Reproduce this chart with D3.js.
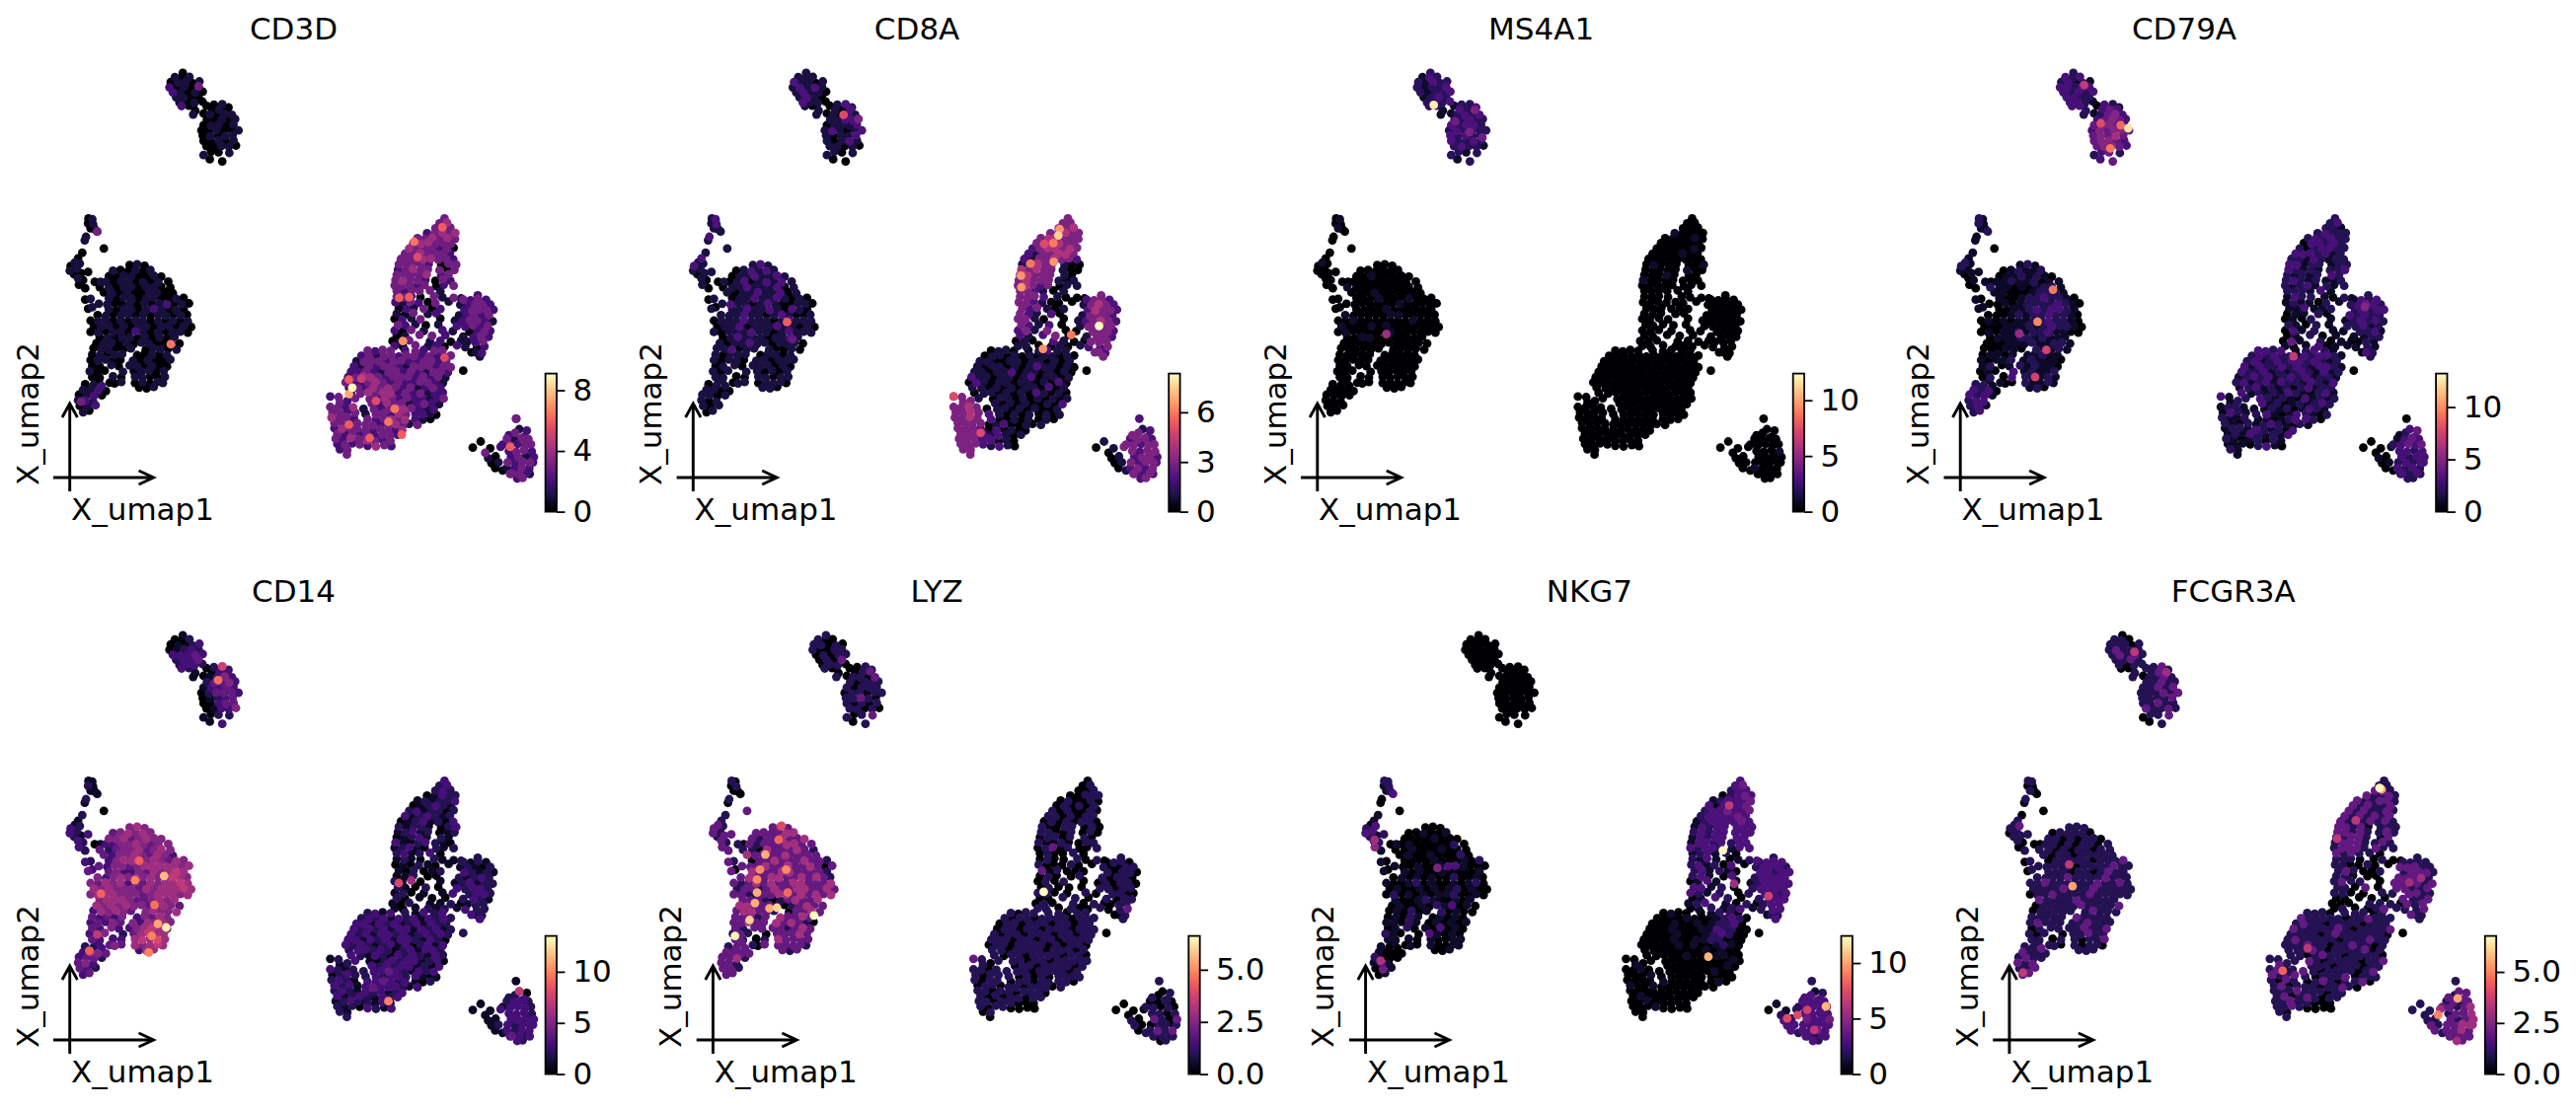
<!DOCTYPE html>
<html><head><meta charset="utf-8">
<script src="https://cdn.jsdelivr.net/npm/d3@7"></script>
<style>html,body{margin:0;background:#fff}svg{display:block}text{font-family:"DejaVu Sans",sans-serif;fill:#000}</style>
</head><body><svg id="c" width="2610" height="1124"></svg>
<script>
// Embedding positions, grouped by visible cell group.
const umapA=[[440,207],[421,219],[438,221],[456,218],[411,233],[428,235],[446,232],[464,236],[480,231],[408,248],
[425,250],[443,246],[461,249],[478,247],[416,262],[434,264],[452,261],[470,263],[488,260],[424,276],
[442,278],[460,275],[478,277],[432,291],[450,289],[468,292],[487,288],[437,301],[455,300],[470,314]];
const umapB=[[497,300],[465,325],[490,322],[515,297],[535,296],[550,305],[510,310],[528,312],[546,309],[505,325],
[523,327],[541,324],[558,326],[498,340],[516,342],[534,339],[552,341],[566,338],[490,355],[508,357],
[526,354],[544,356],[562,353],[485,370],[503,372],[521,369],[539,371],[557,368],[574,370],[488,385],
[506,387],[524,384],[542,386],[560,383],[490,400],[508,402],[526,399],[544,401],[562,398],[497,415],
[515,417],[533,414],[551,416],[568,413],[490,440],[508,430],[526,432],[552,434],[505,452],[535,458]];
const umapC=[[213,620],[222,622],[212,634],[224,636],[218,648],[228,650],[234,657],[207,672],[204,682],[250,705],
[198,717],[188,733],[180,745],[192,748],[170,755],[185,762],[168,768],[178,778],[195,775],[212,772],
[188,790],[200,795],[190,808],[205,818],[228,800],[242,800],[205,850],[218,848],[212,876],[222,872]];
const umapD=[[312,752],[330,750],[348,754],[272,768],[290,766],[308,770],[326,767],[344,769],[362,766],[262,784],
[280,786],[298,782],[316,785],[334,783],[352,786],[370,782],[388,785],[255,800],[273,802],[291,798],
[309,801],[327,799],[345,802],[363,798],[381,801],[405,799],[240,815],[262,817],[280,813],[298,816],
[316,814],[334,817],[352,813],[370,816],[388,814],[410,816],[250,830],[270,832],[288,828],[306,831],
[324,829],[342,832],[360,828],[378,831],[396,829],[416,832],[262,846],[280,848],[298,844],[316,847],
[334,845],[352,848],[370,844],[388,847],[406,845],[424,848],[442,845],[238,862],[258,864],[276,860],
[294,863],[312,861],[330,864],[348,860],[366,863],[384,861],[402,864],[420,860],[438,863],[455,861],
[262,878],[280,880],[298,876],[316,879],[334,877],[352,880],[370,876],[388,879],[406,877],[424,880],
[442,877],[235,894],[255,896],[273,892],[291,895],[309,893],[327,896],[345,892],[363,895],[381,893],
[399,896],[417,892],[435,895],[450,893],[218,910],[236,912],[254,908],[272,911],[290,909],[308,912],
[326,908],[344,911],[362,909],[380,912],[398,908],[416,911],[434,909],[452,912],[226,926],[244,928],
[262,924],[280,927],[298,925],[316,928],[334,924],[352,927],[370,925],[388,928],[406,924],[424,927],
[442,925],[460,928],[218,942],[236,944],[254,940],[272,943],[290,941],[308,944],[326,940],[344,943],
[362,941],[380,944],[398,940],[416,943],[434,941],[452,944],[240,958],[258,960],[276,956],[294,959],
[312,957],[330,960],[348,956],[366,959],[384,957],[402,960],[420,956],[232,974],[250,976],[268,972],
[286,975],[304,973],[322,976],[340,972],[358,975],[376,973],[394,976],[412,972],[432,975],[243,990],
[261,992],[279,988],[297,991],[315,989],[351,992],[369,988],[387,991],[405,989],[425,992],[225,988]];
const umapE=[[222,1006],[240,1008],[258,1004],[276,1007],[294,1005],[330,1008],[348,1004],[366,1007],[384,1005],[402,1008],
[218,1022],[236,1024],[254,1020],[272,1023],[290,1021],[320,1024],[338,1020],[356,1023],[374,1021],[392,1024],
[410,1020],[222,1038],[240,1040],[268,1036],[286,1039],[312,1037],[330,1040],[348,1036],[366,1039],[384,1037],
[402,1040],[216,1054],[234,1056],[252,1052],[296,1055],[322,1053],[340,1056],[358,1052],[376,1055],[394,1053],
[222,1070],[240,1072],[272,1068],[292,1071],[325,1069],[343,1072],[361,1068],[379,1071],[397,1069],[264,1086],
[276,1088],[292,1084],[325,1087],[343,1085],[361,1088],[379,1084],[392,1087],[335,1100],[353,1102],[370,1098]];
const umapT=[[238,1078],[225,1092],[245,1095],[205,1090],[255,1110],[200,1106],[218,1106],[236,1110],[190,1120],[208,1122],
[226,1124],[245,1122],[188,1136],[206,1138],[224,1140],[192,1152],[210,1155],[230,1150],[200,1170],[215,1165]];
const umapF=[[1070,620],[1058,634],[1076,632],[1048,648],[1066,650],[1084,646],[1028,662],[1046,664],[1064,660],[1082,663],
[1096,661],[1005,676],[1023,678],[1041,674],[1059,677],[1077,675],[1095,678],[995,690],[1013,692],[1031,688],
[1049,691],[1067,689],[1085,692],[985,705],[1003,707],[1021,703],[1039,706],[1057,704],[1075,707],[1092,703],
[975,720],[993,722],[1011,718],[1029,721],[1047,719],[1065,722],[1083,718],[965,735],[983,737],[1001,733],
[1019,736],[1037,734],[1055,737],[1073,733],[1091,736],[960,750],[978,752],[996,748],[1014,751],[1032,749],
[1062,752],[1080,748],[1098,751],[958,765],[976,767],[994,763],[1012,766],[1030,764],[1058,767],[1076,763],
[1094,766],[955,780],[973,782],[991,778],[1009,781],[1027,779],[1062,782],[1080,778],[952,795],[970,797],
[988,793],[1006,796],[1024,794],[1048,797],[1066,793],[1084,796],[950,810],[968,812],[986,808],[1004,811],
[1022,809],[1050,812],[1068,808],[1092,811],[955,825],[973,827],[991,823],[1010,826],[1035,824],[1060,827]];
const umapH=[[955,842],[973,844],[990,840],[1012,843],[1045,841],[1065,844],[952,858],[970,860],[988,856],[1008,859],
[1030,857],[1048,860],[1080,856],[960,875],[978,877],[996,873],[1020,876],[1040,874],[1060,877],[955,890],
[975,892],[995,888],[1030,891],[1050,889],[950,905],[968,907],[990,903],[1012,906],[1060,904],[958,922],
[976,924],[1000,920],[1025,923],[1055,921],[950,938],[970,940],[990,936],[1020,939],[1065,937],[955,952],
[975,954],[1010,950],[1040,953],[1072,951],[945,968],[965,970],[985,966],[1035,969],[1060,967],[1085,970],
[1110,966],[950,982],[970,984],[1000,980],[1030,983],[1050,981],[1070,984],[1100,980],[1092,845],[1110,847]];
const umapG=[[1150,838],[1115,850],[1133,852],[1151,848],[1170,851],[1108,865],[1126,867],[1144,863],[1162,866],[1180,864],
[1118,880],[1136,882],[1154,878],[1172,881],[1188,879],[1105,895],[1123,897],[1141,893],[1159,896],[1177,894],
[1095,910],[1113,912],[1131,908],[1149,911],[1167,909],[1186,912],[1100,925],[1120,927],[1138,923],[1156,926],
[1174,924],[1090,940],[1130,942],[1148,938],[1166,941],[1180,939],[1115,955],[1140,957],[1158,953],[1176,956],
[1125,970],[1145,972],[1163,968],[1120,985],[1148,987],[1166,983],[1145,1000],[1160,1002],[1155,1012],[1135,1000]];
const umapL=[[795,1125],[815,1127],[818,1142],[836,1138],[795,1155],[813,1157],[831,1153],[850,1156],[800,1170],[818,1172],
[836,1168],[855,1171],[798,1185],[816,1187],[834,1183],[852,1186],[805,1200],[823,1202],[841,1198],[860,1201],
[805,1215],[823,1217],[841,1213],[860,1216],[812,1230],[830,1232],[848,1228],[866,1231],[808,1245],[826,1247],
[844,1243],[862,1246],[880,1244],[812,1260],[830,1262],[848,1258],[866,1261],[818,1275],[836,1277],[835,1290]];
const umapI=[[885,995],[903,997],[921,993],[940,996],[975,994],[1000,997],[1020,993],[1045,996],[1065,994],[870,1010],
[888,1012],[906,1008],[924,1011],[942,1009],[960,1012],[978,1008],[996,1011],[1014,1009],[1032,1012],[1050,1008],
[1068,1011],[1085,1009],[858,1025],[876,1027],[894,1023],[912,1026],[930,1024],[948,1027],[966,1023],[984,1026],
[1002,1024],[1020,1027],[1038,1023],[1056,1026],[1074,1024],[852,1040],[870,1042],[888,1038],[906,1041],[924,1039],
[942,1042],[960,1038],[978,1041],[996,1039],[1014,1042],[1032,1038],[1050,1041],[1068,1039],[1085,1042],[845,1055],
[863,1057],[881,1053],[899,1056],[917,1054],[935,1057],[953,1053],[971,1056],[989,1054],[1007,1057],[1025,1053],
[1043,1056],[1061,1054],[1078,1057],[838,1070],[856,1072],[874,1068],[892,1071],[910,1069],[928,1072],[946,1068],
[964,1071],[982,1069],[1000,1072],[1018,1068],[1036,1071],[1054,1069],[1072,1072],[832,1085],[850,1087],[868,1083],
[886,1086],[904,1084],[922,1087],[940,1083],[958,1086],[976,1084],[994,1087],[1012,1083],[1030,1086],[1048,1084],
[1066,1087],[840,1100],[862,1102],[880,1098],[898,1101],[916,1099],[934,1102],[952,1098],[970,1101],[988,1099],
[1006,1102],[1024,1098],[1042,1101],[1060,1099],[845,1115],[868,1117],[886,1113],[904,1116],[922,1114],[940,1117],
[958,1113],[976,1116],[994,1114],[1012,1117],[1030,1113],[1048,1116],[1066,1114],[855,1130],[890,1132],[908,1128],
[926,1131],[944,1129],[962,1132],[980,1128],[998,1131],[1016,1129],[1034,1132],[1052,1128],[1068,1131],[895,1145],
[913,1147],[931,1143],[949,1146],[967,1144],[985,1147],[1003,1143],[1021,1146],[1039,1144],[1057,1147],[875,1160],
[900,1162],[918,1158],[936,1161],[954,1159],[972,1162],[990,1158],[1008,1161],[1026,1159],[1044,1162],[880,1175],
[905,1177],[923,1173],[941,1176],[959,1174],[977,1177],[1000,1173],[1018,1176],[1036,1174],[1050,1177],[885,1190],
[905,1192],[923,1188],[941,1191],[959,1189],[975,1192],[1000,1188],[1018,1191],[1036,1189],[880,1205],[898,1207],
[916,1203],[934,1206],[952,1204],[970,1207],[985,1203],[1005,1206],[880,1220],[898,1222],[916,1218],[934,1221],
[952,1219],[968,1222],[885,1235],[903,1237],[921,1233],[939,1236],[957,1234],[885,1250],[903,1252],[921,1248],
[940,1251],[885,1265],[905,1267],[925,1263],[942,1266]];
const umapJ=[[1138,1270],[1157,1253],[1168,1285],[1180,1272],[1175,1300],[1193,1295],[1183,1314],[1200,1312],[1192,1328],[1210,1335]];
const umapK=[[1242,1188],[1250,1218],[1225,1235],[1268,1222],[1220,1245],[1238,1247],[1256,1243],[1272,1246],[1210,1262],[1228,1264],
[1246,1260],[1264,1263],[1278,1261],[1225,1280],[1243,1282],[1261,1278],[1280,1281],[1230,1296],[1248,1298],[1266,1294],
[1285,1297],[1222,1312],[1240,1314],[1258,1310],[1276,1313],[1220,1328],[1238,1330],[1256,1326],[1274,1329],[1232,1344],
[1250,1346],[1268,1342],[1245,1358],[1258,1356],[1205,1268],[1275,1345],[1228,1345],[1262,1240],[1240,1228],[1283,1312]];
const umapStray=[[1115,1052]];
const umapGroups=[umapA,umapB,umapC,umapD,umapE,umapT,umapF,umapH,umapG,umapL,umapI,umapJ,umapK,umapStray];

// Expression read per group (same order as umapGroups); entries left out read as 0.
const CD3D=[
[0,1,0,1,0,1,1,0,1,2,0,1,0,1,2,1,0,1,0,1,1,0,0,1,0,1,0,2,0,0],
[0,1,0,0,1,0,0,1,0,1,0,1,1,0,0,1,0,1,0,1,1,0,1,0,0,1,0,0,1,0,1,0,1,1,0,0,1,0,1,0,0,1,1,0,1,0,0,1,0,0],
[0,1,0,1,0,0,3,1,1,0,0,0,1,1,0,1,1,0,0,0,1,0,0,0,0,1,0,1,0,1],
[0,1,0,1,0,0,1,0,1,0,0,1,1,0,0,1,0,1,0,1,1,0,1,0,1,0,0,1,0,1,1,0,1,1,0,0,0,1,0,1,0,0,1,1,0,0,1,0,1,1,
0,1,1,0,0,1,0,1,1,0,0,1,0,1,0,1,2,0,1,0,1,0,1,1,0,1,2,1,0,1,0,0,1,0,1,1,0,1,0,1,1,0,1,0,0,1,1,0,1,0,
1,1,0,1,0,1,0,1,0,1,1,0,1,0,1,1,0,1,1,0,1,0,0,1,0,1,1,0,2,1,0,1,0,1,1,0,0,1,0,1,1,0,1,0,1,0,1,0,1,1,
0,1,0,1,1,0,0,1,0,1,1,0,0,1,0,1,1,0,1,0],
[0,1,0,1,1,0,0,1,0,1,0,1,1,0,0,1,0,1,0,0,1,0,0,1,0,1,1,0,1,0,0,1,0,0,1,0,1,1,0,1,0,0,1,0,1,1,0,0,1,0,0,1,0,1,0,1,1,0,0,1],
[0,1,2,0,0,1,1,2,0,1,2,0,1,2,1,0,1,2,1,0],
[3,3,4,3,2,3,2,3,4,3,4,3,3,4,3,4,3,2,4,4,3,3,3,4,3,3,3,2,3,0,3,3,4,3,3,3,2,3,3,3,4,4,3,3,2,3,3,3,3,2,
0,3,3,2,3,4,3,3,3,0,3,3,3,3,3,4,2,3,3,4,3,3,2,0,3,2,3,3,3,2,3,0,2,3,3,2,3,3,3,1],
[3,3,2,0,3,1,2,1,3,2,0,3,1,0,2,1,3,0,2,1,0,3,1,2,0,2,1,3,0,3,2,1,0,1,2,0,3,1,2,0,1,3,3,2,0,1,3,1,2,0,1,2,0,3,1,2,0,2,3,1],
[2,3,2,3,2,1,2,3,3,2,2,3,3,3,2,1,2,3,2,3,1,2,3,3,2,1,2,2,3,2,3,1,0,2,3,2,1,2,3,2,1,2,3,1,0,2,1,2,1,0],
[2,3,3,2,3,3,2,4,3,3,2,3,4,3,3,2,3,3,2,3,2,4,3,3,3,2,3,2,3,2,4,3,3,2,3,2,3,2,3,3],
[3,2,3,3,2,3,2,3,3,2,3,1,3,3,2,3,3,2,3,2,2,3,1,3,3,3,2,3,3,2,2,3,3,2,3,2,1,3,2,3,3,2,1,3,3,3,2,3,3,2,2,3,2,1,3,3,2,3,2,1,3,3,2,2,3,4,4,3,2,3,3,3,2,3,2,3,1,3,2,
2,3,4,3,2,3,2,2,3,3,2,1,2,3,2,4,3,4,3,2,3,1,2,3,2,2,3,4,3,4,4,2,3,2,3,1,2,2,3,3,2,4,3,2,3,2,2,1,2,3,3,2,4,3,3,1,2,3,2,1,1,3,2,3,4,4,3,2,1,2,1,3,3,2,4,3,2,2,1,0,3,2,3,4,3,4,2,1,0,3,3,2,3,4,3,1,3,3,2,3,
3,2,4,3,2,3,3,2,4,3,2,3,2,4,3,2,3,3,2,4],
[0,0,3,0,1,0,0,1,0,0],
[3,1,2,2,3,1,3,3,2,3,2,3,3,2,3,3,2,2,3,1,2,3,2,3,3,1,2,3,2,3,3,2,2,3,2,1,3,2,3,2],[0]];
const CD8A=[
[1,1,1,1,2,1,1,0,1,1,2,1,2,1,1,2,1,1,0,1,2,1,0,2,1,1,0,1,0,1],
[0,1,0,1,2,1,1,0,2,1,0,2,1,1,1,2,2,3,0,1,1,1,2,1,2,1,0,1,2,1,0,1,1,2,1,0,1,2,1,1,1,0,1,0,1,1,0,1,0,0],
[1,2,1,2,1,0,1,2,1,1,1,2,1,1,2,1,1,0,1,1,1,0,1,0,0,1,0,1,1,0],
[1,2,1,0,1,2,1,2,1,0,1,1,2,1,1,2,1,0,1,2,0,1,2,1,2,1,0,1,1,2,1,1,1,2,0,1,1,0,1,1,2,1,1,2,0,1,0,1,1,2,
1,1,2,1,0,1,0,1,2,1,1,0,1,2,1,0,0,1,1,0,1,1,2,1,1,2,1,0,2,1,0,1,1,1,2,1,1,0,1,2,1,0,0,1,0,1,1,1,2,1,
1,1,0,1,2,1,1,1,0,1,1,2,0,1,1,1,2,1,1,0,1,0,1,0,1,1,1,2,1,1,0,1,2,1,1,1,0,1,2,1,1,1,0,1,1,2,1,1,0,1,
1,2,1,1,0,1,1,1,0,1,2,0,1,1,1,0,0,1,0,1],
[1,0,1,1,1,0,1,1,0,1,1,0,1,1,0,1,1,0,1,1,1,0,1,1,0,1,1,1,0,1,0,1,0,1,1,1,0,1,0,1,1,1,0,0,1,1,0,1,1,0,1,1,0,1,1,1,0,1,1,0],
[1,1,1,0,0,1,1,0,1,1,0,1,1,0,1,1,0,1,0,1],
[3,3,3,3,3,4,3,3,4,3,3,3,4,4,3,3,3,3,5,4,4,3,3,2,3,4,4,3,4,3,2,1,3,3,4,4,3,2,1,3,3,4,3,3,2,1,3,4,3,3,
1,0,0,4,3,4,3,3,1,0,0,3,4,3,3,3,1,0,3,4,3,3,3,1,0,1,3,4,3,2,3,0,1,1,3,3,2,1,0,1],
[3,3,3,2,1,0,3,3,2,1,0,0,0,3,2,3,1,0,1,3,2,1,2,0,3,3,1,0,0,3,2,1,2,0,2,3,1,3,0,2,1,2,3,0,0,1,0,2,1,0,0,1,1,0,0,1,0,1,0,0],
[3,2,3,3,2,1,3,4,3,2,2,4,3,3,2,1,3,3,3,2,1,2,3,4,3,2,1,3,3,3,3,0,3,3,3,2,1,3,3,2,3,3,3,2,2,3,3,2,3,3],
[3,3,3,3,3,3,4,3,3,3,4,3,3,3,4,3,3,3,3,3,3,3,3,2,3,3,3,2,3,3,3,2,2,3,3,3,2,3,3,3],
[0,1,1,0,0,1,2,1,1,0,1,1,0,1,0,1,0,1,1,0,1,0,1,1,0,0,1,1,0,1,1,0,1,0,1,1,0,1,1,0,1,0,1,2,1,1,0,1,0,1,1,0,1,1,2,0,1,1,0,1,0,1,0,2,1,1,0,1,1,0,1,2,0,1,1,0,1,0,2,
1,0,1,1,0,1,1,0,1,0,2,0,1,1,0,1,0,1,0,1,1,0,2,0,1,0,1,1,0,1,0,1,0,2,1,0,1,0,1,0,1,1,0,1,0,1,0,1,0,1,1,0,1,0,1,0,0,1,0,2,0,1,1,0,1,0,1,0,0,1,2,1,0,1,0,1,0,1,0,1,2,0,0,1,0,1,0,1,0,0,1,2,0,0,1,
0,1,0,2,0,1,0,0,1,2,1,0,1,2,0,1,0,1,2,1],
[0,1,0,1,0,1,0,1,0,1],
[2,1,3,2,2,3,3,2,3,3,2,3,3,3,2,3,3,2,3,3,2,3,2,3,3,2,3,2,3,2,2,3,2,3,3,2,3,2,3,2],[0]];
const MS4A1=[
[2,1,3,2,2,1,3,2,2,2,1,2,2,3,2,1,2,2,3,1,2,3,2,2,1,2,3,2,2,1],
[1,1,1,2,2,3,3,2,2,2,3,2,3,2,2,3,2,2,3,2,3,3,2,2,3,2,3,2,2,3,2,3,2,2,3,2,2,3,2,2,3,2,2,1,2,2,1,2,1,2],
[0,1,0,0,1,0,0,0,0,0,0,0,1,0,0,0,0,0,0,0],
[0,0,0,0,0,0,0,0,0,0,0,1,0,0,0,0,0,0,0,0,0,0,0,0,0,0,1,0,0,0,0,0,0,0,0,0,0,0,0,1,0,0,0,0,0,0,0,0,0,1,
0,0,0,1,0,0,0,0,0,0,0,0,0,0,1,0,0,0,0,0,0,0,0,0,1,0,0,0,0,0,0,1,0,0,0,0,0,1,1,0,0,0,0,0,0,0,1,0,0,0,
0,0,0,0,1,0,0,0,1,0,0,0,1,0,1,0,0,0,0,0,0,0,0,1,0,0,0,0,0,1,0,0,0,0,0,0,0,0,1,1,0,0,0,0,0,0,0],
[],[],
[0,0,0,0,0,0,1,0,0,0,0,0,0,0,0,1,0,0,0,0,0,0,0,0,0,0,0,0,1,0,0,0,0,0,1,0,0,0,0,0,0,0,0,0,0,0,1,0,0,0,0,0,1,0,0,0,0,0,1,0,0,0,0,0,1,0,0,0,1,0],
[],[],[],[],[],
[0,0,0,0,0,0,0,0,0,0,0,0,0,0,0,0,1,0,0,0,0,0,0,0,0,1,0,0,0,0],[]];
const CD79A=[
[2,3,2,3,2,3,1,2,1,3,3,2,3,3,3,2,3,2,3,3,3,2,2,3,3,2,1,3,3,2],
[0,2,1,3,2,1,3,4,3,2,4,5,3,3,4,5,4,3,4,5,5,4,3,3,5,4,5,5,4,4,5,4,6,4,4,5,5,4,3,4,5,5,4,3,2,3,4,2,3,4],
[2,1,2,1,1,1,2,1,1,0,1,1,2,1,2,1,1,0,1,1,0,1,0,0,1,0,1,0,1,1],
[1,2,1,0,1,2,1,1,2,0,1,1,2,1,2,1,0,1,1,2,1,1,2,0,1,1,2,1,1,0,1,0,1,2,2,1,1,1,0,0,0,1,2,2,2,1,1,0,0,1,
2,2,3,2,2,1,0,0,0,1,0,1,2,2,2,2,3,2,1,0,0,0,1,1,2,3,2,3,3,2,1,0,0,0,1,2,1,2,2,3,2,2,1,0,0,1,0,1,0,1,
1,2,2,3,2,2,1,0,0,0,0,1,1,1,2,1,2,3,2,2,1,0,0,1,0,1,1,2,1,2,2,3,1,1,0,0,0,1,1,1,2,2,1,2,1,1,1,0,0,0,
1,1,1,2,1,1,2,2,1,0,0,1,1,0,2,1,1,2,1,0],
[0,1,1,0,1,1,1,2,1,1,1,0,1,1,2,1,2,1,1,1,0,1,2,0,1,2,1,2,1,1,0,0,1,0,3,1,2,1,1,2,0,2,0,3,2,1,1,2,1,1,0,0,2,1,1,2,1,1,2,0],
[1,2,1,2,0,3,2,3,3,2,3,1,2,3,3,2,3,1,2,3],
[2,2,3,2,2,1,2,3,2,2,2,2,3,2,3,2,2,0,3,3,2,3,2,2,0,2,3,3,2,2,3,3,3,2,3,1,2,2,2,1,3,2,1,2,2,3,3,1,2,2,
1,2,2,3,2,1,2,1,2,2,3,2,1,2,1,2,3,2,2,3,2,1,2,1,1,2,2,1,2,3,1,2,1,2,2,2,2,1,3,1],
[1,3,2,2,1,0,1,2,1,1,0,2,1,1,1,3,1,1,2,0,1,1,2,0,0,1,0,2,1,2,1,0,2,1,0,3,1,2,1,0,1,2,0,1,0,4,1,2,0,1,0,1,0,1,3,0,1,1,2,1],
[2,1,3,2,3,2,3,4,3,2,2,3,2,3,3,3,2,3,2,2,1,2,3,2,3,2,2,2,3,1,2,1,2,2,3,1,1,1,2,2,0,2,1,1,2,1,3,2,2,0],
[3,1,1,2,1,2,2,1,0,3,2,1,2,1,1,2,2,1,0,2,1,2,2,1,1,2,1,3,2,1,0,1,2,1,1,1,0,2,1,1],
[3,3,2,3,1,2,3,2,1,2,3,2,3,2,2,1,3,2,3,3,2,1,2,3,1,2,3,2,3,3,2,3,2,1,2,3,1,3,2,2,3,2,3,2,1,3,3,2,1,3,2,2,3,1,2,1,2,3,2,1,3,1,2,1,2,3,2,3,1,2,3,2,3,1,2,2,1,2,3,
1,2,3,1,3,2,2,1,3,2,1,3,1,2,3,1,2,1,2,0,2,3,1,2,2,3,1,2,1,2,1,3,2,1,0,2,3,1,2,3,2,1,2,1,0,3,1,2,1,2,3,1,2,0,1,2,1,2,3,2,1,1,2,1,2,0,1,3,2,1,2,3,1,0,1,3,2,1,0,2,1,1,0,1,2,3,3,2,0,1,2,3,2,1,0,
2,1,3,2,1,2,0,3,2,1,2,1,3,2,0,2,1,2,3,1],
[0,0,0,0,1,0,0,1,0,0],
[0,3,1,4,1,3,4,3,2,3,4,3,4,3,3,2,3,3,2,3,3,2,3,2,3,3,2,3,2,3,2,3,2,2,1,2,2,3,2,3],[0]];
const CD14=[
[1,0,0,2,0,1,0,2,3,0,1,2,3,2,3,3,3,4,3,2,3,3,4,2,3,3,2,3,2,1],
[0,1,0,2,5,2,0,3,3,1,3,5,3,2,4,4,5,3,1,3,3,4,3,0,2,4,4,4,3,0,1,2,3,4,0,0,3,4,4,0,1,3,3,5,1,0,2,2,1,3],
[1,1,2,1,1,0,1,2,1,0,2,1,1,2,3,2,3,2,1,3,3,2,3,2,0,1,3,2,4,3],
[5,6,5,4,5,6,5,6,5,5,5,6,4,5,6,5,5,3,3,5,5,6,5,4,5,5,4,2,4,5,5,6,4,5,6,5,4,3,5,5,6,5,4,6,5,3,3,5,6,6,
7,5,6,5,4,6,5,4,3,5,5,4,5,6,6,6,6,6,5,6,4,5,3,3,5,4,6,5,6,7,6,5,3,5,6,5,6,5,6,5,6,7,6,5,5,4,6,5,6,3,
5,4,6,5,6,6,7,6,6,5,6,5,5,5,4,6,5,6,6,6,7,6,5,6,6,6,5,5,5,4,5,6,6,6,5,6,5,6,6,6,5,4,4,5,6,5,6,6,5,6,
5,6,5,5,4,5,6,5,4,6,5,6,5,4,5,6,5,5,6,3],
[4,3,4,3,5,3,5,4,6,5,3,4,3,5,4,5,3,6,5,6,5,4,3,5,3,3,5,6,7,6,5,3,7,5,2,4,6,7,6,6,4,3,3,3,6,7,6,8,6,4,5,4,6,5,6,7,6,3,6,6],
[3,2,3,2,4,3,6,5,3,4,4,2,4,5,3,4,3,2,3,4],
[3,2,3,2,3,2,0,1,3,2,2,1,2,1,2,2,3,0,1,2,3,2,1,2,3,1,2,2,0,2,3,1,2,3,2,1,2,0,1,2,3,1,2,0,3,2,1,2,2,1,
0,2,3,1,2,3,1,2,0,1,2,0,1,2,3,1,2,1,3,1,0,2,3,2,1,0,1,2,3,1,0,2,1,2,2,3,1,2,3,0],
[1,2,1,0,2,1,0,1,0,2,1,0,1,1,0,2,0,1,2,0,1,2,0,0,2,1,6,0,1,2,1,0,2,0,1,2,0,1,1,2,0,1,0,0,1,0,2,1,1,2,0,1,0,1,2,1,2,1,1,2],
[2,2,1,2,1,1,2,1,0,2,3,2,1,2,1,2,1,2,3,2,1,2,3,1,2,2,3,2,3,3,2,3,2,3,3,2,2,3,2,1,1,2,2,3,2,2,1,2,3,3],
[1,2,1,2,3,2,1,2,0,2,3,2,2,3,2,0,3,2,3,1,2,3,2,1,3,1,2,3,1,2,3,2,1,2,1,2,0,2,1,2],
[2,3,1,3,2,1,3,2,3,2,3,2,3,1,3,2,3,1,3,2,3,2,3,3,1,3,2,3,1,2,3,1,3,2,2,3,2,3,2,3,1,3,3,1,3,2,3,1,2,3,2,3,1,3,3,2,3,1,2,3,2,3,2,3,3,1,3,2,3,1,3,3,2,1,3,2,0,3,2,
3,2,1,2,3,1,3,0,2,3,1,3,2,3,3,2,3,2,0,2,3,1,3,3,2,3,2,1,3,2,0,3,2,3,2,1,3,2,3,1,0,2,3,2,3,3,1,2,3,0,3,2,3,2,3,3,1,2,0,3,2,3,3,4,3,2,1,3,2,3,2,3,2,3,3,2,3,1,0,1,3,3,4,3,2,3,1,0,2,3,4,3,3,3,2,1,3,3,
2,3,1,2,3,2,1,3,2,3,2,1,3,2,3,2,1,3,2,3],
[1,1,1,1,1,1,1,2,1,1],
[1,3,2,0,2,3,3,2,1,3,3,3,2,3,3,3,2,3,3,3,3,3,2,3,3,3,2,3,3,4,3,2,3,2,3,3,3,3,2,3],[2]];
const LYZ=[
[1,1,0,0,1,1,0,1,0,1,0,0,1,1,0,1,0,1,1,0,1,0,2,0,1,1,0,1,0,0],
[0,1,0,0,1,1,0,1,2,1,1,0,2,1,0,1,1,1,1,0,1,1,1,0,1,1,0,1,1,1,1,2,1,0,1,0,1,0,1,1,1,0,1,0,1,0,1,2,0,1],
[1,0,0,1,0,0,0,1,0,2,1,1,2,1,2,1,2,1,2,2,2,1,2,2,1,0,2,1,2,0],
[2,3,2,2,2,2,2,3,3,2,1,2,2,3,2,2,3,2,1,2,2,2,3,3,2,2,1,1,0,3,2,2,2,3,2,1,3,2,2,2,2,3,2,2,2,2,0,2,2,3,
2,2,2,3,2,2,1,2,2,2,3,2,2,3,2,2,3,2,0,2,3,2,2,2,3,3,2,2,2,2,1,2,3,2,2,3,3,2,2,3,2,3,2,1,2,1,2,3,2,3,
2,2,3,3,2,2,2,3,1,2,2,1,2,3,2,2,3,3,2,2,3,2,2,2,1,0,2,2,3,3,2,3,2,3,2,3,2,2,2,1,0,1,2,3,2,2,3,3,3,2,
2,2,1,0,1,2,3,2,2,3,3,2,2,1,0,2,2,3,2,2],
[2,2,2,1,2,3,2,2,3,2,2,2,3,2,2,3,2,3,2,1,0,2,1,2,2,2,2,1,2,3,2,1,2,1,0,2,2,2,3,2,2,1,0,1,3,2,2,2,2,1,0,2,2,2,2,2,1,2,1,2],
[2,2,2,1,2,2,2,2,2,2,3,1,2,2,1,2,2,1,2,2],
[0,0,1,0,0,1,0,0,1,1,1,0,1,0,0,1,0,0,1,0,1,0,1,1,0,1,0,0,1,0,1,1,0,1,0,1,1,0,1,0,1,0,1,1,0,1,0,0,1,1,
0,1,0,1,1,0,0,1,0,1,0,0,1,1,0,1,1,0,1,0,0,1,0,0,1,1,0,1,2,0,1,0,0,1,0,1,0,0,1,0],
[0,1,0,0,1,0,1,0,0,0,1,0,0,2,0,1,0,0,0,0,1,0,0,1,0,1,0,1,0,0,1,0,0,0,1,1,0,0,1,0,0,1,1,0,0,1,0,1,0,1,0,1,1,0,1,0,0,1,1,0],
[1,0,1,1,0,1,0,0,1,1,1,0,1,1,0,1,0,1,1,0,0,1,0,1,1,0,1,1,0,1,1,0,1,1,0,0,1,0,1,1,0,1,1,0,1,2,0,1,1,0],
[2,1,1,0,1,1,0,1,1,0,1,1,1,0,1,1,0,1,1,0,1,1,0,1,1,0,1,0,1,1,0,1,1,1,0,1,1,0,1,0],
[1,0,1,1,1,1,0,1,1,1,0,1,1,0,1,1,1,1,0,1,1,1,0,1,1,0,1,1,1,0,1,1,0,1,1,0,1,1,0,1,1,0,1,1,1,0,1,1,1,1,0,1,1,0,1,1,1,0,1,1,0,1,1,1,1,1,0,1,1,0,1,1,0,1,1,1,1,0,1,
1,0,1,1,1,1,0,1,0,1,1,0,1,1,0,1,1,1,1,0,1,1,1,0,1,1,0,1,1,0,1,1,1,1,0,1,1,0,1,1,1,0,1,1,0,1,1,1,1,1,0,1,1,0,1,1,1,1,0,1,1,1,1,0,1,1,1,1,0,1,1,0,1,0,1,0,1,1,1,1,0,1,1,0,1,1,1,1,0,1,
1,0,1,1,1,0,1,1,0,1,1,1,0,1,1,0,1,1,1,0],
[0,0,0,0,1,0,1,0,0,1],
[1,0,1,1,0,0,1,0,1,1,0,1,0,1,1,0,1,2,1,0,2,0,1,1,0,1,2,1,2,0,1,1,0,1,0,1,1,1,0,1],[0]];
const NKG7=[
[],[],
[2,2,1,2,1,2,3,0,0,0,1,1,0,3,2,3,3,2,1,2,3,2,5,1,0,1,1,0,1,0],
[0,0,0,0,0,1,0,0,1,0,0,0,0,1,0,0,0,0,1,0,0,0,0,0,2,0,0,0,1,0,0,0,1,0,0,0,0,1,0,0,1,0,0,0,2,0,0,0,0,0,
1,0,0,0,1,0,2,1,0,0,1,0,0,1,3,3,1,0,0,0,1,0,1,0,0,1,0,0,0,0,1,0,1,0,1,0,1,0,0,2,0,0,1,0,1,0,0,1,2,0,
1,0,0,1,0,1,2,0,0,1,0,0,1,0,1,0,1,2,0,1,0,0,0,2,0,1,0,1,0,1,1,2,0,0,1,0,1,0,0,1,2,1,0,0,1,0,1,0,1,0,
0,1,0,2,1,3,0,1,0,1,0,2,0,1,2,0,1,0,0,0],
[0,1,0,2,1,0,1,0,1,0,1,1,0,2,1,0,1,0,1,0,1,0,1,2,0,1,0,3,0,1,0,2,1,0,0,3,1,0,1,0,1,0,1,0,1,0,0,1,1,0,1,0,1,0,0,1,1,0,0,1],
[1,0,0,1,0,1,0,0,2,0,0,0,1,3,1,0,4,1,0,1],
[3,3,4,2,3,3,0,2,3,4,3,1,2,3,3,3,4,3,0,3,3,3,4,2,3,3,4,3,3,4,2,3,3,3,3,4,3,1,2,3,3,3,3,4,3,1,3,2,3,3,
3,3,3,2,3,2,3,3,3,3,3,1,3,2,3,3,3,3,1,3,3,2,3,2,3,3,3,2,3,3,2,1,3,3,1,2,3,1,2,0],
[2,1,3,1,0,1,2,3,1,2,0,3,0,2,3,1,2,1,0,2,3,1,0,3,0,1,3,1,1,3,3,1,2,0,3,2,1,2,0,0,1,3,2,0,1,2,3,1,0,2,0,0,1,2,1,2,3,1,2,3],
[2,2,3,3,3,2,3,3,3,2,3,3,2,3,3,2,3,3,3,3,1,2,3,3,3,3,2,3,3,3,3,2,3,3,2,3,2,3,3,3,2,3,3,2,3,3,2,2,3,1],
[0,0,1,0,0,0,1,0,0,0,0,1,0,0,0,0,1,0,0,1,0,0,0,0,0,1,0,0,0,0,1,0,0,0,0,0,1,0,0,0],
[0,1,0,0,0,1,2,2,0,0,0,0,0,1,0,0,0,1,2,3,2,0,0,0,0,1,0,0,1,0,1,2,2,3,0,0,0,0,1,0,0,0,1,1,3,2,2,0,0,0,0,0,0,1,0,0,0,1,2,3,2,0,0,0,0,0,0,1,0,0,1,1,2,2,0,0,0,0,0,
0,0,0,1,0,1,0,0,1,2,1,0,0,0,0,0,0,0,0,0,1,0,1,0,0,0,0,0,0,0,1,0,0,0,1,1,0,0,0,0,0,0,0,0,0,0,0,0,1,0,0,0,0,0,0,0,0,0,1,0,0,0,0,0,0,0,0,1,0,0,0,0,0,0,0,0,0,0,0,0,1,0,0,0,0,0,0,1,0,0],
[0,1,2,1,3,2,3,3,3,2],
[2,1,3,2,3,3,3,3,2,3,3,3,4,3,3,3,3,4,3,3,4,3,3,3,3,3,3,4,3,3,2,3,3,2,2,3,3,3,3,3],[0]];
const FCGR3A=[
[0,1,1,0,1,1,1,0,1,1,2,1,1,1,1,2,1,2,1,1,1,2,1,1,0,1,1,0,0,1],
[1,1,0,1,2,1,1,2,1,1,1,2,1,1,1,2,1,1,1,1,2,1,2,1,1,1,2,1,2,1,1,1,1,2,1,1,2,1,1,2,1,1,2,1,0,1,1,2,0,1],
[1,1,0,0,1,0,0,1,0,0,0,1,1,2,1,1,0,1,1,1,1,0,0,1,0,0,0,1,0,1],
[1,1,1,0,1,1,1,1,0,1,1,0,1,0,1,1,0,1,1,0,1,0,1,1,0,1,1,1,0,1,0,1,1,0,1,1,1,0,1,1,0,1,1,1,1,1,0,1,1,1,
1,1,0,1,1,1,2,1,1,1,1,1,0,1,1,1,1,2,1,1,1,1,1,0,1,1,0,1,2,1,1,1,1,1,1,2,1,1,1,1,2,1,1,1,1,1,2,1,1,1,
1,1,1,2,1,1,2,1,1,1,1,1,2,1,1,1,2,1,1,1,1,1,0,1,1,2,1,1,1,1,2,1,1,1,1,1,2,1,1,1,1,2,1,1,1,1,1,0,1,1,
1,1,1,2,1,1,1,1,2,1,1,1,1,1,1,2,1,1,1,0],
[1,1,1,1,1,2,1,1,1,1,1,2,1,1,1,1,1,2,1,1,1,0,1,1,1,1,1,2,1,1,2,1,0,1,0,1,1,2,1,1,1,1,0,1,1,0,1,1,2,1,1,0,1,0,1,1,0,1,1,1],
[1,1,2,1,1,2,1,1,1,2,1,1,2,1,2,1,1,2,2,2],
[1,1,1,2,2,1,2,1,1,2,1,2,1,1,2,2,1,2,1,2,1,1,2,2,1,2,1,1,2,1,2,1,2,1,2,1,2,2,1,2,1,2,1,2,1,2,2,1,2,0,
1,1,1,2,2,1,2,1,1,2,1,2,1,2,2,1,0,2,1,2,2,2,1,1,2,1,1,2,2,2,1,2,1,1,2,1,2,1,1,0],
[1,1,1,0,0,1,1,1,0,0,1,0,0,1,2,1,0,0,1,1,1,0,0,0,1,2,1,1,0,1,1,0,2,0,1,1,0,0,1,0,0,0,0,0,0,0,0,1,1,1,0,0,1,0,0,1,2,1,0,0],
[1,1,1,1,1,2,2,2,1,1,1,2,2,2,1,2,2,2,3,1,2,2,3,2,1,2,2,2,1,1,2,1,2,2,1,1,2,1,1,2,2,1,2,1,1,2,1,1,1,2],
[1,1,2,1,1,2,1,1,2,1,1,2,1,0,2,1,1,2,0,1,1,1,1,2,1,2,0,1,1,1,2,1,1,1,1,2,1,1,0,1],
[1,1,1,0,1,1,1,0,1,2,1,1,1,1,1,0,1,1,2,1,1,1,1,2,1,1,0,1,1,1,1,0,1,1,1,2,1,1,1,1,1,2,1,0,1,1,1,1,2,1,1,1,1,0,1,2,1,1,1,1,1,1,0,1,2,1,1,1,1,1,0,1,1,1,2,1,1,1,1,
1,2,1,1,0,1,1,2,1,1,0,1,1,1,1,2,1,0,1,1,1,1,2,0,1,1,1,0,1,2,1,1,0,1,1,1,1,0,1,2,1,0,1,1,1,1,0,1,1,2,1,1,1,0,1,1,1,0,1,1,2,1,0,1,1,1,1,0,1,2,1,0,1,1,1,2,0,1,1,1,0,1,2,1,0,1,1,2,0,1,
1,0,1,1,2,1,0,1,1,1,0,1,1,2,1,0,1,1,1,0],
[1,1,1,1,1,1,2,1,2,1],
[1,2,2,2,1,2,1,2,2,2,1,2,3,1,2,2,3,2,1,2,3,2,2,3,3,2,2,3,2,1,2,2,3,2,3,2,2,2,1,3],[0]];

// Single cells that stand out, read individually: [umap1, umap2, value].
const CD3D_spots=[[411,977,6.5],[848,1100,9],[840,1118,7.5],[840,1077,6],[970,968,7],[997,686,6.5],[1065,645,6],[961,845,6],[985,843,6],[950,1160,6.5],[935,1197,6.5],[967,1234,6],[840,1205,6],[890,1243,6],[1228,1268,6],[1243,1188,3],[195,1140,3],[234,657,3],[905,1138,5.5],[870,1075,5],[1070,1015,5.5],[1005,730,5.5],[478,245,3]];
const CD8A_spots=[[394,914,5.5],[530,326,5],[407,963,2.5],[1047,668,7.5],[1050,650,6.5],[1035,690,6],[957,782,6.5],[958,815,6.5],[980,748,6],[1036,743,6.5],[1145,925,8.3],[1078,950,6],[1010,990,6.5],[860,1228,5],[795,1125,5]];
const MS4A1_spots=[[334,948,5.5],[448,298,12],[547,312,4.5],[534,375,4.5],[565,390,4],[500,345,4]];
const CD79A_spots=[[391,822,9.5],[354,913,10],[310,947,5.5],[375,993,7.5],[348,1070,7.5],[466,241,7],[506,350,8],[554,355,9],[572,364,12.5],[529,421,9.5],[970,1011,7],[1142,871,5]];
const CD14_spots=[[400,1036,13],[380,1026,11],[395,890,11.5],[325,902,10],[335,847,9],[243,940,9],[372,972,9.5],[365,1060,10],[215,1102,9],[358,1107,10],[935,1245,10],[960,910,8],[1250,1217,7],[535,295,7.5],[525,334,9.5]];
const LYZ_spots=[[294,829,5.5],[281,872,5],[274,937,5.5],[269,967,5.5],[322,980,6],[304,982,5.5],[256,1015,6],[411,1002,6.6],[221,1060,6.5],[348,937,4.5],[344,872,5],[274,900,5],[964,935,6.6],[333,747,4],[326,787,4.5]];
const NKG7_spots=[[1028,817,12.4],[993,1119,10.5],[1276,1260,10.5],[190,787,5.5],[1183,1294,7.5],[1208,1285,7.5],[1231,1270,7],[1248,1327,6.5],[1043,690,6.5],[1138,947,7],[204,1130,6],[1055,912,5.5],[341,867,4.5]];
const FCGR3A_spots=[[1059,640,6.7],[1064,644,5.5],[320,919,5.5],[312,857,3.5],[826,1159,4.5],[1247,1237,5.5],[1200,1284,5],[201,1164,3.5],[469,254,3.5],[546,312,3],[957,784,3.5],[1002,732,3.5],[886,1095,3.5]];

const geneNames=["CD3D","CD8A","MS4A1","CD79A","CD14","LYZ","NKG7","FCGR3A"];
const geneValues=[CD3D,CD8A,MS4A1,CD79A,CD14,LYZ,NKG7,FCGR3A];
const geneSpots=[CD3D_spots,CD8A_spots,MS4A1_spots,CD79A_spots,CD14_spots,LYZ_spots,NKG7_spots,FCGR3A_spots];
const colorMax=[9.1,8.34,12.4,13.2,13.5,6.62,12.44,6.76];
const colorTicks=[[0,4,8],[0,3,6],[0,5,10],[0,5,10],[0,5,10],[0,2.5,5],[0,5,10],[0,2.5,5]];
const tickFormats=["d","d","d","d","d",".1f","d",".1f"];
const panelX=[0,631.6,1264.1,1915.5,0,651.7,1312.9,1965.2];
const panelY=[0,0,0,0,570,570,570,570];

const svg=d3.select("#c");
const FS=31;
const defs=svg.append("defs");
const grad=defs.append("linearGradient").attr("id","magma").attr("x1",0).attr("y1",1).attr("x2",0).attr("y2",0);
d3.range(0,33).forEach(i=>grad.append("stop").attr("offset",i/32).attr("stop-color",d3.interpolateMagma(i/32)));
defs.append("style").text(".tick line{stroke:#000;stroke-width:1.8px}.domain{display:none}");

geneNames.forEach((gene,p)=>{
  const ox=panelX[p], oy=panelY[p];
  const g=svg.append("g").attr("transform",`translate(${ox},${oy})`);
  const x=d3.scaleLinear().domain([0,1568]).range([0,660]);
  const y=d3.scaleLinear().domain([0,1568]).range([0,560]);
  const color=d3.scaleSequential(d3.interpolateMagma).domain([0,colorMax[p]]);
  const cells=[];
  umapGroups.forEach((grp,gi)=>grp.forEach((pt,i)=>cells.push({u:pt[0],v:pt[1],val:(geneValues[p][gi]||[])[i]??0})));
  geneSpots[p].forEach(s=>cells.push({u:s[0],v:s[1],val:s[2]}));
  cells.sort((a,b)=>d3.ascending(a.val,b.val));
  g.append("g").selectAll("circle").data(cells).join("circle")
    .attr("cx",d=>x(d.u)).attr("cy",d=>y(d.v)).attr("r",4.4).attr("fill",d=>color(d.val));

  g.append("text").attr("x",297.5).attr("y",40).attr("text-anchor","middle").attr("font-size",FS).text(gene);

  // embedding arrows
  const ar=g.append("g").attr("fill","none").attr("stroke","#000").attr("stroke-width",2.9);
  ar.append("path").attr("d","M70.7,498V409M63,423L70.7,409L78.4,423");
  ar.append("path").attr("d","M54,484H155.6M140.6,477L155.6,484L140.6,491");
  g.append("text").attr("x",72).attr("y",527).attr("font-size",FS).text("X_umap1");
  g.append("text").attr("transform","translate(38.5,492) rotate(-90)").attr("font-size",FS).text("X_umap2");

  // colour bar
  const cb=d3.scaleLinear().domain([0,colorMax[p]]).range([518.6,378.6]);
  g.append("rect").attr("x",552.6).attr("y",378.6).attr("width",11.4).attr("height",140)
    .attr("fill","url(#magma)").attr("stroke","#000").attr("stroke-width",1.8);
  const ax=g.append("g").attr("transform","translate(564,0)")
    .call(d3.axisRight(cb).tickValues(colorTicks[p]).tickFormat(d3.format(tickFormats[p])).tickSize(8.4).tickPadding(8));
  ax.selectAll("text").attr("font-size",FS).attr("font-family","DejaVu Sans");
});
</script></body></html>
